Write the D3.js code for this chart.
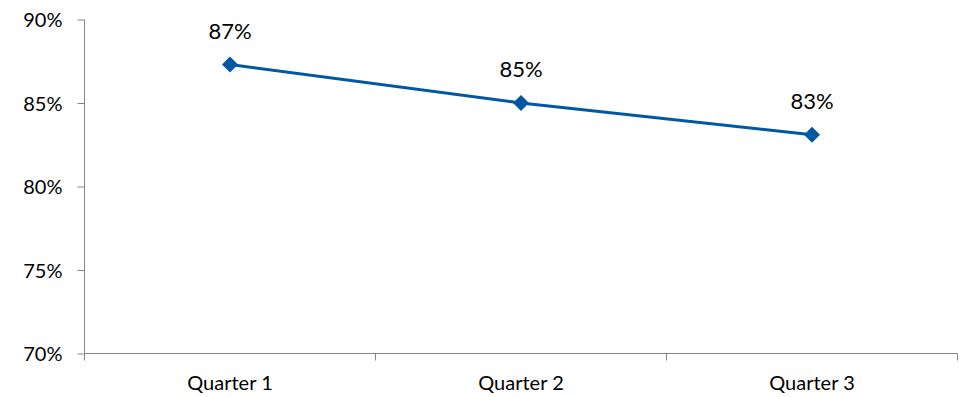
<!DOCTYPE html>
<html><head><meta charset="utf-8">
<script src="https://cdn.jsdelivr.net/npm/d3@7"></script>
<style>body{margin:0;background:#fff}svg{display:block}text{font-family:Lato,"Open Sans",sans-serif;fill:#000}</style>
</head><body><svg id="c" width="960" height="397"></svg>
<script>
const categories = ["Quarter 1","Quarter 2","Quarter 3"];
const values = [87.3, 85.0, 83.1];
const labels = ["87%","85%","83%"];
const yTicks = [70,75,80,85,90];

const svg = d3.select("#c");
const m = {l:84.5, r:957.5, t:19.5, b:353.5};
const x = d3.scaleBand().domain(categories).range([m.l,m.r]);
const y = d3.scaleLinear().domain([70,90]).range([m.b,m.t]);
const axisColor = "#868686";

const ya = svg.append("g").attr("transform",`translate(${m.l},0)`)
  .call(d3.axisLeft(y).tickValues(yTicks).tickSize(7).tickPadding(15).tickFormat(d=>d+"%"));
ya.selectAll("path,line").attr("stroke",axisColor);
ya.select(".domain").attr("d",`M0,${m.t}V${m.b}`);
ya.selectAll("text").style("font-size","20px").attr("dy","0.35em");

const xa = svg.append("g").attr("transform",`translate(0,${m.b})`)
  .call(d3.axisBottom(x).tickSize(0).tickPadding(22));
xa.selectAll("path").attr("stroke",axisColor).attr("d",`M${m.l},0H${m.r}`);
xa.selectAll("text").style("font-size","20px");
// boundary ticks between categories
const bounds = categories.map(c=>x(c)).concat([m.r]);
svg.append("g").selectAll("line").data(bounds).join("line")
  .attr("x1",d=>d).attr("x2",d=>d).attr("y1",m.b).attr("y2",m.b+7)
  .attr("stroke",axisColor);

const pts = categories.map((c,i)=>({c,v:values[i],l:labels[i]}));
const color = "#0058A2";
svg.append("path").datum(pts)
  .attr("d",d3.line().x(d=>x(d.c)+x.bandwidth()/2).y(d=>y(d.v)))
  .attr("fill","none").attr("stroke",color).attr("stroke-width",3);
svg.append("g").selectAll("path").data(pts).join("path")
  .attr("transform",d=>`translate(${x(d.c)+x.bandwidth()/2},${y(d.v)})`)
  .attr("d","M0,-8L8,0L0,8L-8,0Z").attr("fill",color);
svg.append("g").selectAll("text").data(pts).join("text")
  .attr("x",d=>x(d.c)+x.bandwidth()/2).attr("y",d=>y(d.v)-26)
  .attr("text-anchor","middle").style("font-size","22px").text(d=>d.l);
</script></body></html>
